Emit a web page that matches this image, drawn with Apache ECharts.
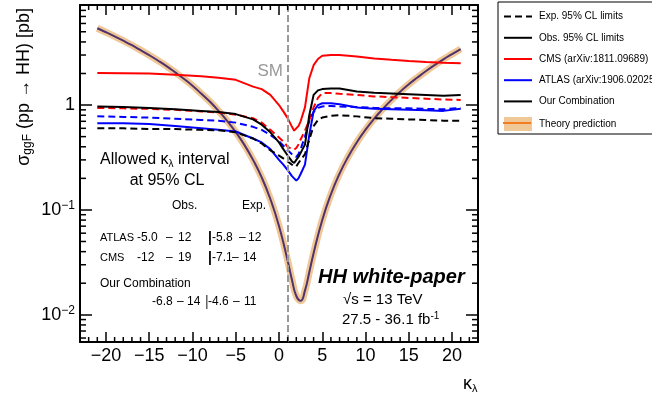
<!DOCTYPE html>
<html>
<head>
<meta charset="utf-8">
<script src="https://cdn.jsdelivr.net/npm/echarts@6/dist/echarts.min.js"></script>
<style>
  html, body { margin: 0; padding: 0; background: #fff; }
  #chart { width: 652px; height: 396px; }
</style>
</head>
<body>
<div id="chart"></div>
<script>
// axis ranges
const xMin = -23, xMax = 23;
const yMin = 0.0055, yMax = 9;
const smKappa = 1;

// kappa_lambda points of the limit scans
const kappaGrid = [-21, -18, -15, -12, -9, -7, -5, -3, -2, -1, 0, 0.5, 1, 1.5, 1.75, 2, 2.25, 2.5, 3, 3.5, 4, 4.5, 5, 6, 7, 9, 11, 13, 15, 17, 19, 21];

// 95% CL upper limits on sigma_ggF(pp -> HH) [pb]
const cmsObs   = [2.02, 2.01, 2.0, 1.95, 1.88, 1.82, 1.74, 1.5, 1.42, 1.25, 1.0, 0.87, 0.75, 0.62, 0.57, 0.6, 0.63, 0.7, 0.95, 1.8, 2.4, 2.75, 2.95, 3.0, 3.0, 2.9, 2.78, 2.7, 2.63, 2.57, 2.53, 2.5];
const cmsExp   = [0.94, 0.93, 0.92, 0.9, 0.87, 0.85, 0.81, 0.75, 0.68, 0.58, 0.49, 0.45, 0.40, 0.38, 0.375, 0.39, 0.42, 0.47, 0.57, 0.72, 0.95, 1.17, 1.3, 1.3, 1.28, 1.25, 1.21, 1.19, 1.17, 1.15, 1.13, 1.12];
const atlasObs = [0.67, 0.67, 0.66, 0.63, 0.6, 0.58, 0.56, 0.48, 0.44, 0.38, 0.3, 0.27, 0.24, 0.21, 0.2, 0.19, 0.2, 0.22, 0.27, 0.52, 0.87, 1.0, 1.04, 1.04, 1.02, 0.95, 0.92, 0.91, 0.9, 0.89, 0.88, 0.92];
const atlasExp = [0.78, 0.77, 0.76, 0.74, 0.72, 0.71, 0.68, 0.62, 0.58, 0.52, 0.45, 0.41, 0.37, 0.34, 0.33, 0.32, 0.34, 0.38, 0.5, 0.7, 0.86, 0.94, 0.97, 0.98, 0.97, 0.96, 0.94, 0.93, 0.93, 0.92, 0.91, 0.94];
const combObs  = [0.97, 0.96, 0.94, 0.91, 0.88, 0.86, 0.82, 0.73, 0.65, 0.55, 0.44, 0.38, 0.33, 0.29, 0.28, 0.3, 0.32, 0.35, 0.42, 0.8, 1.25, 1.38, 1.42, 1.44, 1.44, 1.35, 1.31, 1.29, 1.27, 1.25, 1.23, 1.25];
const combExp  = [0.6, 0.6, 0.59, 0.59, 0.58, 0.575, 0.55, 0.48, 0.43, 0.37, 0.33, 0.31, 0.29, 0.27, 0.26, 0.26, 0.28, 0.3, 0.34, 0.47, 0.63, 0.72, 0.76, 0.79, 0.8, 0.78, 0.75, 0.74, 0.73, 0.72, 0.71, 0.71];

// theory prediction
const theoryKappa = [-21, -20, -19, -18, -17, -16, -15, -14, -13, -12, -11, -10, -9, -8, -7, -6, -5, -4, -3, -2, -1, 0, 1, 1.5, 2, 2.5, 3, 3.5, 4, 5, 6, 7, 8, 9, 10, 11, 12, 13, 14, 15, 16, 17, 18, 19, 20, 21];
const theoryXsec  = [5.40, 4.95, 4.52, 4.11, 3.72, 3.34, 2.99, 2.66, 2.35, 2.05, 1.78, 1.53, 1.29, 1.08, 0.883, 0.708, 0.552, 0.417, 0.300, 0.204, 0.127, 0.0702, 0.0328, 0.0215, 0.0151, 0.0136, 0.0170, 0.0254, 0.0387, 0.080, 0.141, 0.222, 0.322, 0.442, 0.582, 0.741, 0.920, 1.12, 1.34, 1.58, 1.83, 2.11, 2.41, 2.73, 3.06, 3.42];

// allowed kappa_lambda intervals at 95% CL: [low, high]
const intervalObs = { ATLAS: [-5.0, 12], CMS: [-12, 19], Comb: [-6.8, 14] };
const intervalExp = { ATLAS: [-5.8, 12], CMS: [-7.1, 14], Comb: [-4.6, 11] };

// minor tick positions (ROOT style)
const xMinorTicks = [];
for (let k = -22; k <= 22; k++) if (k % 5 !== 0) xMinorTicks.push(k);
const yMinorTicks = [];
[0.001, 0.01, 0.1, 1].forEach(d => {
  for (let m = 2; m <= 9; m++) {
    const v = +(m * d).toPrecision(3);
    if (v > yMin && v < yMax) yMinorTicks.push(v);
  }
});

const font = '"Liberation Sans", Arial, Helvetica, sans-serif';
const bandColor = '#f0c796';
const theoryColor = '#50326e';

const chart = echarts.init(document.getElementById('chart'));

function limitSeries(name, vals, color, dashed) {
  return {
    name: name,
    type: 'line',
    data: kappaGrid.map((k, i) => [k, vals[i]]),
    symbol: 'none',
    silent: true,
    z: 3,
    itemStyle: { color: color },
    lineStyle: { color: color, width: 2, type: dashed ? [7, 4] : 'solid' }
  };
}

function xAx(position, showLabel) {
  return {
    type: 'value', position: position,
    min: xMin, max: xMax, splitNumber: 9, minInterval: 5, maxInterval: 5,
    axisLine: { show: true, onZero: false, lineStyle: { color: '#000', width: 2 } },
    axisTick: { show: true, inside: true, length: 10, lineStyle: { color: '#000', width: 1.5 } },
    splitLine: { show: false },
    axisLabel: {
      show: showLabel, margin: 5, fontSize: 18, color: '#000', fontFamily: font,
      formatter: function (v) {
        if (Math.abs(v) > 20 || Math.abs(v % 5) > 1e-9) return '';
        return v < 0 ? '\u2212' + (-v) : String(v);
      }
    }
  };
}

function yAx(position, showLabel) {
  return {
    type: 'log', logBase: 10, position: position,
    min: yMin, max: yMax,
    axisLine: { show: true, onZero: false, lineStyle: { color: '#000', width: 2 } },
    axisTick: { show: true, inside: true, length: 12, lineStyle: { color: '#000', width: 1.5 } },
    splitLine: { show: false },
    minorTick: { show: false },
    axisLabel: {
      show: showLabel, margin: 5, color: '#000', fontFamily: font,
      formatter: function (v) {
        const l = Math.log10(v), e = Math.round(l);
        if (Math.abs(l - e) > 1e-6) return '';
        if (e === 0) return '{b|1}';
        return '{b|10}{s|\u2212' + (-e) + '}';
      },
      rich: {
        b: { fontSize: 18, lineHeight: 20, fontFamily: font, color: '#000' },
        s: { fontSize: 12, lineHeight: 13, verticalAlign: 'top', fontFamily: font, color: '#000' }
      }
    }
  };
}

// small text helper for the in-plot annotations
function txt(x, y, text, o) {
  return {
    type: 'text', x: x, y: y, silent: true, z: 50,
    style: Object.assign({ text: text, fill: '#000', fontFamily: font, fontSize: 11, align: 'left', verticalAlign: 'middle' }, o || {})
  };
}

const subRich = function (size, subSize, color) {
  return {
    m: { fontSize: size, lineHeight: size + 2, fontFamily: font, color: color || '#000' },
    s: { fontSize: subSize, lineHeight: subSize, verticalAlign: 'bottom', fontFamily: font, color: color || '#000' },
    u: { fontSize: subSize, lineHeight: subSize, verticalAlign: 'top', fontFamily: font, color: color || '#000' }
  };
};

function fmtBound(v) {
  return Math.abs(v) < 10 ? v.toFixed(1) : String(v);
}

// one "low – high" interval written as three pieces, like the original
function range(x, y, r, xs) {
  return [
    txt(x, y, fmtBound(r[0]), { fontSize: 12 }),
    txt(x + xs[0], y, '\u2013', { fontSize: 12 }),
    txt(x + xs[1], y, fmtBound(r[1]), { fontSize: 12 })
  ];
}

chart.setOption({
  animation: false,
  backgroundColor: '#fff',
  textStyle: { fontFamily: font },
  grid: { left: 80, right: 174, top: 5, bottom: 54, containLabel: false, outerBoundsMode: 'none' },
  xAxis: [xAx('bottom', true), xAx('top', false)],
  yAxis: [yAx('left', true), yAx('right', false)],
  legend: {
    orient: 'vertical',
    left: 498, top: 2,
    padding: [9, 10, 3, 5],
    borderColor: '#000', borderWidth: 1,
    backgroundColor: '#fff',
    itemWidth: 28, itemHeight: 14, itemGap: 10,
    selectedMode: false,
    itemStyle: { opacity: 0 },
    textStyle: { fontSize: 10, color: '#000', fontFamily: font, padding: [0, 0, 0, 2] },
    data: [
      'Exp. 95% CL limits',
      'Obs. 95% CL limits',
      'CMS (arXiv:1811.09689)',
      'ATLAS (arXiv:1906.02025)',
      'Our Combination',
      { name: 'Theory prediction', icon: 'rect', itemStyle: { color: bandColor, opacity: 1 } }
    ]
  },
  graphic: [
    // orange centre line of the theory legend swatch
    { type: 'line', z: 100, silent: true, shape: { x1: 503, y1: 123, x2: 531, y2: 123 }, style: { stroke: '#f47c20', lineWidth: 2 } },
    // y axis title
    {
      type: 'text', x: 24, y: 8, rotation: Math.PI / 2, silent: true,
      style: {
        text: '{m|\u03c3}{s|ggF}{m| (pp \u2192 HH) [pb]}', align: 'right', verticalAlign: 'middle',
        rich: subRich(18, 12)
      }
    },
    // x axis title
    txt(463, 384, '{m|\u03ba}{s|\u03bb}', { rich: subRich(18, 11) }),
    txt(283, 71, 'SM', { fill: '#999', fontSize: 17, align: 'right' }),
    txt(100, 160, '{m|Allowed \u03ba}{s|\u03bb}{m| interval}', { rich: subRich(16, 10) }),
    txt(167, 181, 'at 95% CL', { fontSize: 16, align: 'center' }),
    txt(172, 206, 'Obs.', { fontSize: 12 }),
    txt(242, 206, 'Exp.', { fontSize: 12 }),
    txt(100, 238, 'ATLAS'),
    ...range(137, 238, intervalObs.ATLAS, [29, 41]),
    txt(208, 238, '|', { fontWeight: 'bold', fontSize: 14 }),
    ...range(212, 238, intervalExp.ATLAS, [27, 36]),
    txt(100, 258, 'CMS'),
    ...range(137, 258, intervalObs.CMS, [29, 41]),
    txt(208, 258, '|', { fontWeight: 'bold', fontSize: 14 }),
    ...range(212, 258, intervalExp.CMS, [20, 31]),
    txt(100, 284, 'Our Combination', { fontSize: 12 }),
    ...range(152, 302, intervalObs.Comb, [25, 35]),
    txt(205, 302, '|', { fontSize: 14, fill: '#333' }),
    ...range(208, 302, intervalExp.Comb, [25, 36]),
    txt(318, 277, 'HH white-paper', { fontSize: 20, fontWeight: 'bold', fontStyle: 'italic' }),
    txt(343, 300, '\u221as = 13 TeV', { fontSize: 15 }),
    txt(342, 320, '{m|27.5 - 36.1 fb}{u|-1}', { rich: subRich(15, 10) })
  ],
  series: [
    // legend-only style entries
    { name: 'Exp. 95% CL limits', type: 'line', data: [], symbol: 'none', itemStyle: { color: '#000' }, lineStyle: { color: '#000', width: 2, type: [7, 4] } },
    { name: 'Obs. 95% CL limits', type: 'line', data: [], symbol: 'none', itemStyle: { color: '#000' }, lineStyle: { color: '#000', width: 2 } },
    // theory band and central curve
    {
      name: 'Theory prediction', type: 'line', symbol: 'none', smooth: true, silent: true, z: 1,
      data: theoryKappa.map((k, i) => [k, theoryXsec[i]]),
      itemStyle: { color: bandColor },
      lineStyle: { color: bandColor, width: 7 },
      markLine: {
        silent: true, symbol: ['none', 'none'], label: { show: false },
        lineStyle: { color: '#999', width: 2, type: [7, 3] },
        data: [{ xAxis: smKappa }]
      }
    },
    {
      name: 'Theory prediction', type: 'line', symbol: 'none', smooth: true, silent: true, z: 2,
      data: theoryKappa.map((k, i) => [k, theoryXsec[i]]),
      itemStyle: { color: theoryColor },
      lineStyle: { color: theoryColor, width: 2 }
    },
    limitSeries('CMS (arXiv:1811.09689)', cmsObs, '#ff0000', false),
    limitSeries('CMS (arXiv:1811.09689)', cmsExp, '#ff0000', true),
    limitSeries('ATLAS (arXiv:1906.02025)', atlasObs, '#0000ff', false),
    limitSeries('ATLAS (arXiv:1906.02025)', atlasExp, '#0000ff', true),
    limitSeries('Our Combination', combObs, '#000000', false),
    limitSeries('Our Combination', combExp, '#000000', true),
    // minor ticks on the bottom and top axes
    {
      type: 'custom', silent: true, z: 10, clip: false,
      data: xMinorTicks.map(k => [k, yMin]),
      renderItem: function (params, api) {
        const v = api.value(0);
        const b = api.coord([v, yMin]), t = api.coord([v, yMax]);
        const st = { stroke: '#000', lineWidth: 1.5 };
        return { type: 'group', children: [
          { type: 'line', shape: { x1: b[0], y1: b[1], x2: b[0], y2: b[1] - 5 }, style: st },
          { type: 'line', shape: { x1: t[0], y1: t[1], x2: t[0], y2: t[1] + 5 }, style: st }
        ] };
      }
    },
    // minor ticks on the left and right axes
    {
      type: 'custom', silent: true, z: 10, clip: false,
      data: yMinorTicks.map(v => [xMin, v]),
      renderItem: function (params, api) {
        const v = api.value(1);
        const l = api.coord([xMin, v]), r = api.coord([xMax, v]);
        const st = { stroke: '#000', lineWidth: 1.5 };
        return { type: 'group', children: [
          { type: 'line', shape: { x1: l[0], y1: l[1], x2: l[0] + 6, y2: l[1] }, style: st },
          { type: 'line', shape: { x1: r[0], y1: r[1], x2: r[0] - 6, y2: r[1] }, style: st }
        ] };
      }
    }
  ]
});
</script>
</body>
</html>
